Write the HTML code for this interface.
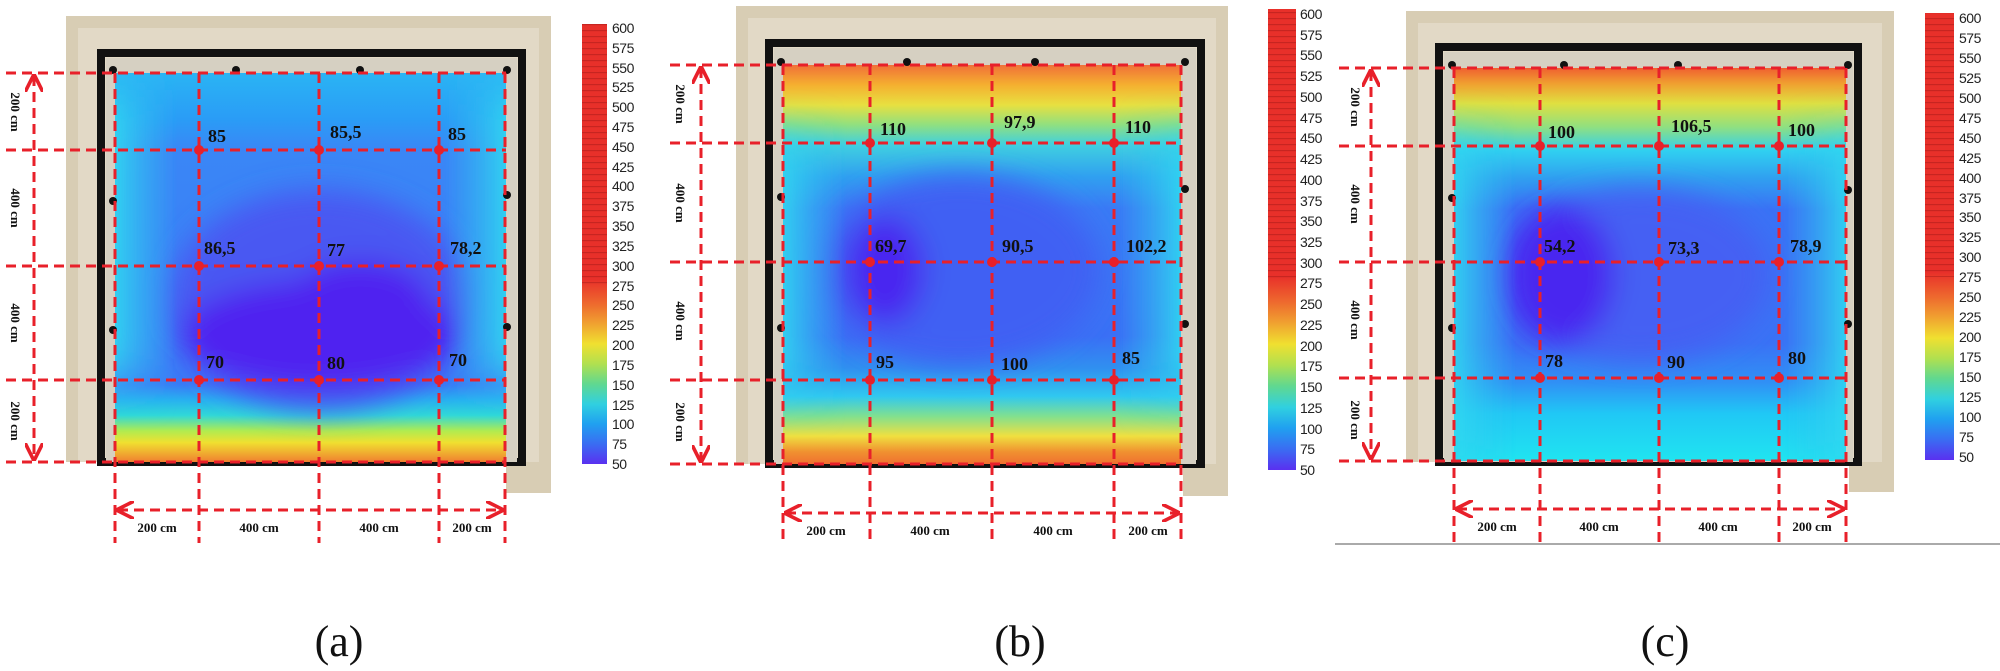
<!DOCTYPE html>
<html><head><meta charset="utf-8"><style>
html,body{margin:0;padding:0;background:#fff;}
svg{display:block;}
.v{font-family:"Liberation Serif",serif;font-weight:bold;font-size:18px;fill:#111;}
.cm{font-family:"Liberation Serif",serif;font-weight:bold;font-size:13px;fill:#111;}
.cb{font-family:"Liberation Sans",sans-serif;font-size:14px;fill:#222;letter-spacing:-0.5px;}
.cap{font-family:"Liberation Serif",serif;font-size:44px;fill:#111;}
.d{stroke:#e8202a;stroke-width:3;stroke-dasharray:10 6;fill:none;}
</style></head><body>
<svg width="2000" height="671" viewBox="0 0 2000 671" xmlns="http://www.w3.org/2000/svg">
<defs>
<linearGradient id="cbar" x1="0" y1="0" x2="0" y2="1">
<stop offset="0" stop-color="#e8302a"/><stop offset="0.58" stop-color="#e8302a"/>
<stop offset="0.636" stop-color="#ee6a2e"/><stop offset="0.68" stop-color="#f0a030"/>
<stop offset="0.727" stop-color="#f0e030"/><stop offset="0.773" stop-color="#b0e050"/>
<stop offset="0.818" stop-color="#60d890"/><stop offset="0.864" stop-color="#30d0e0"/>
<stop offset="0.909" stop-color="#20a0f0"/><stop offset="0.955" stop-color="#3a6cf2"/>
<stop offset="1" stop-color="#5a30f0"/></linearGradient>
<pattern id="stripe" width="26" height="6" patternUnits="userSpaceOnUse"><rect width="26" height="1.2" fill="#8a1010" opacity="0.35"/></pattern>
<linearGradient id="ga" x1="0" y1="0" x2="0" y2="1">
<stop offset="0" stop-color="#2ab4f4"/><stop offset="0.12" stop-color="#2a9cf6"/>
<stop offset="0.2" stop-color="#3a86f6"/><stop offset="0.8" stop-color="#3a7cf6"/>
<stop offset="0.84" stop-color="#28b0f0"/><stop offset="0.88" stop-color="#30d8d8"/>
<stop offset="0.92" stop-color="#b0ec50"/><stop offset="0.95" stop-color="#f0e030"/>
<stop offset="1" stop-color="#f08030"/></linearGradient>
<linearGradient id="gb" x1="0" y1="0" x2="0" y2="1">
<stop offset="0" stop-color="#f07038"/><stop offset="0.05" stop-color="#f5b030"/>
<stop offset="0.1" stop-color="#e8e040"/><stop offset="0.15" stop-color="#90e080"/>
<stop offset="0.2" stop-color="#40d0e0"/><stop offset="0.28" stop-color="#30a0f0"/>
<stop offset="0.36" stop-color="#3a7af5"/><stop offset="0.68" stop-color="#3a70f5"/>
<stop offset="0.76" stop-color="#3090f0"/><stop offset="0.83" stop-color="#30c8f0"/>
<stop offset="0.88" stop-color="#80e090"/><stop offset="0.93" stop-color="#f0e040"/>
<stop offset="0.97" stop-color="#f09030"/><stop offset="1" stop-color="#f07030"/></linearGradient>
<linearGradient id="gc" x1="0" y1="0" x2="0" y2="1">
<stop offset="0" stop-color="#f06030"/><stop offset="0.04" stop-color="#f0a030"/>
<stop offset="0.09" stop-color="#e0e040"/><stop offset="0.15" stop-color="#90e080"/>
<stop offset="0.21" stop-color="#30d0f0"/><stop offset="0.28" stop-color="#30a0f0"/>
<stop offset="0.36" stop-color="#3a72f5"/><stop offset="0.7" stop-color="#3a72f5"/>
<stop offset="0.8" stop-color="#3090f5"/><stop offset="0.88" stop-color="#20c8f5"/>
<stop offset="1" stop-color="#20e4f0"/></linearGradient>
<linearGradient id="side" x1="0" y1="0" x2="1" y2="0">
<stop offset="0" stop-color="#30d8f0" stop-opacity="0.9"/><stop offset="0.16" stop-color="#30c0f0" stop-opacity="0"/>
<stop offset="0.84" stop-color="#30c0f0" stop-opacity="0"/><stop offset="1" stop-color="#30d8f0" stop-opacity="0.9"/></linearGradient>
<filter id="bl" x="-30%" y="-30%" width="160%" height="160%"><feGaussianBlur stdDeviation="14"/></filter>
<filter id="bl2" x="-10%" y="-30%" width="120%" height="160%"><feGaussianBlur stdDeviation="0 22"/></filter>
<clipPath id="ca"><rect x="115" y="73" width="391" height="389"/></clipPath>
<clipPath id="cbb"><rect x="783" y="65" width="398" height="399"/></clipPath>
<clipPath id="cc"><rect x="1454" y="68" width="392" height="393"/></clipPath>
<marker id="ar" viewBox="0 0 10 10" refX="9" refY="5" markerWidth="6" markerHeight="6" orient="auto-start-reverse"><path d="M0,0 L10,5 L0,10" fill="none" stroke="#e8202a" stroke-width="2"/></marker>
</defs>

<!-- ============ PANEL A ============ -->
<rect x="66" y="16" width="485" height="446" fill="#d8cdb4"/>
<rect x="506" y="440" width="45" height="53" fill="#d8cdb4"/>
<rect x="78" y="28" width="461" height="434" fill="#e2d9c6"/>
<rect x="101" y="53" width="421" height="409" fill="none" stroke="#111" stroke-width="8"/>
<rect x="106" y="58" width="411" height="404" fill="#d6d0c2"/>
<g clip-path="url(#ca)">
<rect x="115" y="73" width="391" height="389" fill="url(#ga)"/>
<g filter="url(#bl)">
<ellipse cx="320" cy="300" rx="150" ry="110" fill="#4858f2"/>
<ellipse cx="320" cy="335" rx="140" ry="55" fill="#5020f0"/>
<ellipse cx="360" cy="300" rx="70" ry="40" fill="#5020f0"/>
</g>
<rect x="115" y="90" width="391" height="290" fill="url(#side)" filter="url(#bl2)"/>
</g>
<g fill="#111"><circle cx="113" cy="70" r="4"/><circle cx="236" cy="70" r="4"/><circle cx="360" cy="70" r="4"/><circle cx="507" cy="70" r="4"/><circle cx="113" cy="201" r="4"/><circle cx="113" cy="330" r="4"/><circle cx="507" cy="195" r="4"/><circle cx="507" cy="327" r="4"/></g>
<g class="d">
<line x1="6" y1="73" x2="506" y2="73"/><line x1="6" y1="150" x2="506" y2="150"/><line x1="6" y1="266" x2="506" y2="266"/><line x1="6" y1="380" x2="506" y2="380"/><line x1="6" y1="462" x2="506" y2="462"/>
<line x1="115" y1="73" x2="115" y2="543"/><line x1="199" y1="73" x2="199" y2="543"/><line x1="319" y1="73" x2="319" y2="543"/><line x1="439" y1="73" x2="439" y2="543"/><line x1="505" y1="73" x2="505" y2="543"/>
<line x1="34" y1="76" x2="34" y2="459" marker-start="url(#ar)" marker-end="url(#ar)"/>
<line x1="118" y1="510" x2="502" y2="510" marker-start="url(#ar)" marker-end="url(#ar)"/>
</g>
<g fill="#e8202a"><circle cx="199" cy="150" r="5"/><circle cx="319" cy="150" r="5"/><circle cx="439" cy="150" r="5"/><circle cx="199" cy="266" r="5"/><circle cx="319" cy="266" r="5"/><circle cx="439" cy="266" r="5"/><circle cx="199" cy="380" r="5"/><circle cx="319" cy="380" r="5"/><circle cx="439" cy="380" r="5"/></g>
<g class="v"><text x="208" y="142">85</text><text x="330" y="138">85,5</text><text x="448" y="140">85</text>
<text x="204" y="254">86,5</text><text x="327" y="256">77</text><text x="450" y="254">78,2</text>
<text x="206" y="368">70</text><text x="327" y="369">80</text><text x="449" y="366">70</text></g>
<g class="cm" text-anchor="middle">
<text transform="translate(11,112) rotate(90)">200 cm</text><text transform="translate(11,208) rotate(90)">400 cm</text>
<text transform="translate(11,323) rotate(90)">400 cm</text><text transform="translate(11,421) rotate(90)">200 cm</text>
<text x="157" y="532">200 cm</text><text x="259" y="532">400 cm</text><text x="379" y="532">400 cm</text><text x="472" y="532">200 cm</text></g>
<rect x="582" y="24" width="25" height="440" fill="url(#cbar)"/>
<rect x="582" y="24" width="25" height="260" fill="url(#stripe)"/>
<g class="cb"><text x="612" y="33">600</text><text x="612" y="53">575</text><text x="612" y="73">550</text><text x="612" y="92">525</text><text x="612" y="112">500</text><text x="612" y="132">475</text><text x="612" y="152">450</text><text x="612" y="172">425</text><text x="612" y="191">400</text><text x="612" y="211">375</text><text x="612" y="231">350</text><text x="612" y="251">325</text><text x="612" y="271">300</text><text x="612" y="291">275</text><text x="612" y="310">250</text><text x="612" y="330">225</text><text x="612" y="350">200</text><text x="612" y="370">175</text><text x="612" y="390">150</text><text x="612" y="410">125</text><text x="612" y="429">100</text><text x="612" y="449">75</text><text x="612" y="469">50</text></g>
<text class="cap" x="339" y="656" text-anchor="middle">(a)</text>

<!-- ============ PANEL B ============ -->
<rect x="736" y="6" width="492" height="458" fill="#d8cdb4"/>
<rect x="1183" y="440" width="45" height="56" fill="#d8cdb4"/>
<rect x="748" y="18" width="468" height="446" fill="#e2d9c6"/>
<rect x="769" y="43" width="432" height="421" fill="none" stroke="#111" stroke-width="8"/>
<rect x="774" y="48" width="422" height="416" fill="#d6d0c2"/>
<g clip-path="url(#cbb)">
<rect x="783" y="65" width="398" height="399" fill="url(#gb)"/>
<g filter="url(#bl)">
<ellipse cx="960" cy="270" rx="140" ry="95" fill="#4060f3"/>
<ellipse cx="885" cy="270" rx="40" ry="55" fill="#4a28f0"/>
</g>
<rect x="783" y="140" width="398" height="250" fill="url(#side)" filter="url(#bl2)"/>
</g>
<g fill="#111"><circle cx="781" cy="62" r="4"/><circle cx="907" cy="62" r="4"/><circle cx="1035" cy="62" r="4"/><circle cx="1185" cy="62" r="4"/><circle cx="781" cy="197" r="4"/><circle cx="781" cy="328" r="4"/><circle cx="1185" cy="189" r="4"/><circle cx="1185" cy="324" r="4"/></g>
<g class="d">
<line x1="670" y1="65" x2="1181" y2="65"/><line x1="670" y1="143" x2="1181" y2="143"/><line x1="670" y1="262" x2="1181" y2="262"/><line x1="670" y1="380" x2="1181" y2="380"/><line x1="670" y1="464" x2="1181" y2="464"/>
<line x1="783" y1="65" x2="783" y2="541"/><line x1="870" y1="65" x2="870" y2="541"/><line x1="992" y1="65" x2="992" y2="541"/><line x1="1114" y1="65" x2="1114" y2="541"/><line x1="1181" y1="65" x2="1181" y2="541"/>
<line x1="701" y1="68" x2="701" y2="461" marker-start="url(#ar)" marker-end="url(#ar)"/>
<line x1="786" y1="513" x2="1178" y2="513" marker-start="url(#ar)" marker-end="url(#ar)"/>
</g>
<g fill="#e8202a"><circle cx="870" cy="143" r="5"/><circle cx="992" cy="143" r="5"/><circle cx="1114" cy="143" r="5"/><circle cx="870" cy="262" r="5"/><circle cx="992" cy="262" r="5"/><circle cx="1114" cy="262" r="5"/><circle cx="870" cy="380" r="5"/><circle cx="992" cy="380" r="5"/><circle cx="1114" cy="380" r="5"/></g>
<g class="v"><text x="880" y="135">110</text><text x="1004" y="128">97,9</text><text x="1125" y="133">110</text>
<text x="875" y="252">69,7</text><text x="1002" y="252">90,5</text><text x="1126" y="252">102,2</text>
<text x="876" y="368">95</text><text x="1001" y="370">100</text><text x="1122" y="364">85</text></g>
<g class="cm" text-anchor="middle">
<text transform="translate(676,104) rotate(90)">200 cm</text><text transform="translate(676,203) rotate(90)">400 cm</text>
<text transform="translate(676,321) rotate(90)">400 cm</text><text transform="translate(676,422) rotate(90)">200 cm</text>
<text x="826" y="535">200 cm</text><text x="930" y="535">400 cm</text><text x="1053" y="535">400 cm</text><text x="1148" y="535">200 cm</text></g>
<rect x="1268" y="9" width="28" height="461" fill="url(#cbar)"/>
<rect x="1268" y="9" width="28" height="272" fill="url(#stripe)"/>
<g class="cb"><text x="1300" y="19">600</text><text x="1300" y="40">575</text><text x="1300" y="60">550</text><text x="1300" y="81">525</text><text x="1300" y="102">500</text><text x="1300" y="123">475</text><text x="1300" y="143">450</text><text x="1300" y="164">425</text><text x="1300" y="185">400</text><text x="1300" y="206">375</text><text x="1300" y="226">350</text><text x="1300" y="247">325</text><text x="1300" y="268">300</text><text x="1300" y="288">275</text><text x="1300" y="309">250</text><text x="1300" y="330">225</text><text x="1300" y="351">200</text><text x="1300" y="371">175</text><text x="1300" y="392">150</text><text x="1300" y="413">125</text><text x="1300" y="434">100</text><text x="1300" y="454">75</text><text x="1300" y="475">50</text></g>
<text class="cap" x="1020" y="656" text-anchor="middle">(b)</text>

<!-- ============ PANEL C ============ -->
<rect x="1406" y="11" width="488" height="451" fill="#d8cdb4"/>
<rect x="1849" y="440" width="45" height="52" fill="#d8cdb4"/>
<rect x="1418" y="23" width="464" height="439" fill="#e2d9c6"/>
<rect x="1439" y="47" width="419" height="415" fill="none" stroke="#111" stroke-width="8"/>
<rect x="1444" y="52" width="409" height="410" fill="#d6d0c2"/>
<g clip-path="url(#cc)">
<rect x="1454" y="68" width="392" height="393" fill="url(#gc)"/>
<g filter="url(#bl)">
<ellipse cx="1640" cy="275" rx="130" ry="85" fill="#4460f3"/>
<ellipse cx="1560" cy="275" rx="55" ry="70" fill="#4a28f0"/>
</g>
<rect x="1454" y="140" width="392" height="330" fill="url(#side)" filter="url(#bl2)"/>
</g>
<g fill="#111"><circle cx="1452" cy="65" r="4"/><circle cx="1564" cy="65" r="4"/><circle cx="1678" cy="65" r="4"/><circle cx="1848" cy="65" r="4"/><circle cx="1452" cy="198" r="4"/><circle cx="1452" cy="328" r="4"/><circle cx="1848" cy="190" r="4"/><circle cx="1848" cy="324" r="4"/></g>
<g class="d">
<line x1="1339" y1="68" x2="1846" y2="68"/><line x1="1339" y1="146" x2="1846" y2="146"/><line x1="1339" y1="262" x2="1846" y2="262"/><line x1="1339" y1="378" x2="1846" y2="378"/><line x1="1339" y1="461" x2="1846" y2="461"/>
<line x1="1454" y1="68" x2="1454" y2="543"/><line x1="1540" y1="68" x2="1540" y2="543"/><line x1="1659" y1="68" x2="1659" y2="543"/><line x1="1779" y1="68" x2="1779" y2="543"/><line x1="1846" y1="68" x2="1846" y2="543"/>
<line x1="1371" y1="71" x2="1371" y2="458" marker-start="url(#ar)" marker-end="url(#ar)"/>
<line x1="1457" y1="509" x2="1843" y2="509" marker-start="url(#ar)" marker-end="url(#ar)"/>
</g>
<line x1="1335" y1="544" x2="2000" y2="544" stroke="#aaa" stroke-width="2"/>
<g fill="#e8202a"><circle cx="1540" cy="146" r="5"/><circle cx="1659" cy="146" r="5"/><circle cx="1779" cy="146" r="5"/><circle cx="1540" cy="262" r="5"/><circle cx="1659" cy="262" r="5"/><circle cx="1779" cy="262" r="5"/><circle cx="1540" cy="378" r="5"/><circle cx="1659" cy="378" r="5"/><circle cx="1779" cy="378" r="5"/></g>
<g class="v"><text x="1548" y="138">100</text><text x="1671" y="132">106,5</text><text x="1788" y="136">100</text>
<text x="1544" y="252">54,2</text><text x="1668" y="254">73,3</text><text x="1790" y="252">78,9</text>
<text x="1545" y="367">78</text><text x="1667" y="368">90</text><text x="1788" y="364">80</text></g>
<g class="cm" text-anchor="middle">
<text transform="translate(1351,107) rotate(90)">200 cm</text><text transform="translate(1351,204) rotate(90)">400 cm</text>
<text transform="translate(1351,320) rotate(90)">400 cm</text><text transform="translate(1351,420) rotate(90)">200 cm</text>
<text x="1497" y="531">200 cm</text><text x="1599" y="531">400 cm</text><text x="1718" y="531">400 cm</text><text x="1812" y="531">200 cm</text></g>
<rect x="1925" y="13" width="29" height="447" fill="url(#cbar)"/>
<rect x="1925" y="13" width="29" height="264" fill="url(#stripe)"/>
<g class="cb"><text x="1959" y="23">600</text><text x="1959" y="43">575</text><text x="1959" y="63">550</text><text x="1959" y="83">525</text><text x="1959" y="103">500</text><text x="1959" y="123">475</text><text x="1959" y="143">450</text><text x="1959" y="163">425</text><text x="1959" y="183">400</text><text x="1959" y="203">375</text><text x="1959" y="222">350</text><text x="1959" y="242">325</text><text x="1959" y="262">300</text><text x="1959" y="282">275</text><text x="1959" y="302">250</text><text x="1959" y="322">225</text><text x="1959" y="342">200</text><text x="1959" y="362">175</text><text x="1959" y="382">150</text><text x="1959" y="402">125</text><text x="1959" y="422">100</text><text x="1959" y="442">75</text><text x="1959" y="462">50</text></g>
<text class="cap" x="1665" y="656" text-anchor="middle">(c)</text>
</svg>
</body></html>
